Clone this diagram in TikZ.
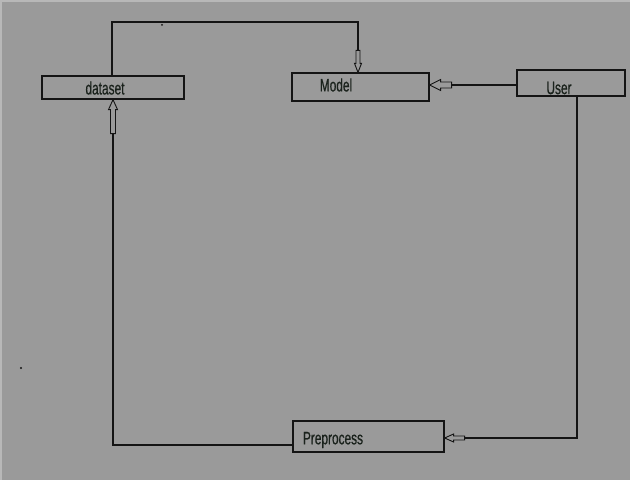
\documentclass[tikz,border=0pt]{standalone}
\usepackage{fontspec}
\setmainfont{Liberation Sans}[FakeStretch=0.66,FakeBold=0.6]
\definecolor{bggray}{HTML}{9A9A9A}
\definecolor{bglight}{HTML}{B8B8B8}
\definecolor{inkc}{HTML}{141414}
\definecolor{textc}{HTML}{1A221C}
\newcommand{\hollowarrow}[6]{%
  \draw[arrowline, shift={#1}, rotate=#2] (0,0) -- (-#4,#5) -- (-#4,#6) -- (-#3,#6) -- (-#3,-#6) -- (-#4,-#6) -- (-#4,-#5) -- cycle;}
\tikzset{
  box/.style={draw=inkc, line width=1.2pt, rectangle, inner sep=0pt},
  lbl/.style={text=textc, font=\fontsize{18}{20}\selectfont, inner sep=0pt},
  conn/.style={draw=inkc, line width=1.2pt},
  arrowline/.style={draw=inkc, line width=0.9pt, fill=bggray},
}
\begin{document}
\begin{tikzpicture}[x=1pt,y=1pt]
\fill[bglight] (0,0) rectangle (630,480);
\fill[bggray] (2,0) rectangle (630,478);
\useasboundingbox (0,0) rectangle (630,480);

% boxes
\node[box, minimum width=142pt, minimum height=23pt] (dataset) at (113,392.5) {};
\node[box, minimum width=137pt, minimum height=28pt] (model) at (360.5,393) {};
\node[box, minimum width=108pt, minimum height=26pt] (user) at (571,397) {};
\node[box, minimum width=151pt, minimum height=31pt] (pre) at (368.5,43.5) {};

% labels
\node[lbl] (tdataset) at (105,392) {dataset};
\node[lbl] (tmodel) at (336,395) {Model};
\node[lbl] (tuser) at (559,392) {User};
\node[lbl] (tpre) at (333,40) {Preprocess};

% routing coordinates
\coordinate (c1) at (112,458);
\coordinate (c2) at (358,458);
\coordinate (m) at (470,395);
\coordinate (c3) at (577,42);
\coordinate (c4) at (113,35);

% dataset -> model
\draw[conn] (c1 |- dataset.north) -- (c1) -- (c2) -- (c2 |- model.north);
\hollowarrow{(c2 |- model.north)}{-90}{22}{9}{3.5}{2}

% user -> model
\draw[conn] (user.west |- m) -- (model.east |- m);
\hollowarrow{(model.east |- m)}{180}{22}{11}{5.5}{3}

% user -> preprocess
\draw[conn] (c3 |- user.south) -- (c3) -- (pre.east |- c3);
\hollowarrow{(pre.east |- c3)}{180}{20}{9}{4}{2}

% preprocess -> dataset
\draw[conn] (pre.west |- c4) -- (c4) -- (c4 |- dataset.south);
\hollowarrow{(c4 |- dataset.south)}{90}{34}{10}{4.5}{2.5}

% stray dots
\fill[inkc] (162,455) circle (1pt);
\fill[inkc] (21,112) circle (1.2pt);
\end{tikzpicture}
\end{document}
